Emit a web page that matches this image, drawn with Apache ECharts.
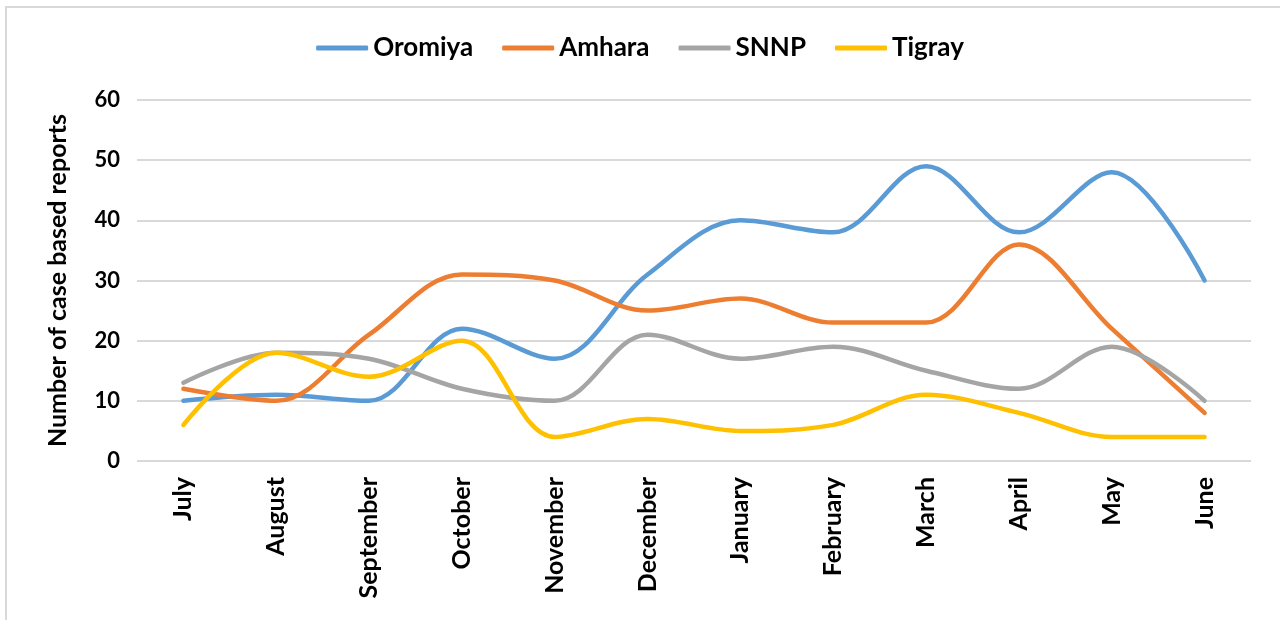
<!DOCTYPE html>
<html>
<head>
<meta charset="utf-8">
<script src="https://cdn.jsdelivr.net/npm/echarts@6/dist/echarts.min.js"></script>
<style>
  html,body{margin:0;padding:0;background:#fff;overflow:hidden;}
  #frame{position:absolute;left:5px;top:6px;width:1400px;height:700px;border-left:2px solid #d9d9d9;border-top:2px solid #d9d9d9;}
  #main{position:absolute;left:0;top:0;width:1280px;height:620px;}
</style>
</head>
<body>
<div id="frame"></div>
<div id="main"></div>
<script>
// 月份
var months=['July','August','September','October','November','December','January','February','March','April','May','June'];
// 各地区病例报告数
var oromiya=[10,11,10,22,17,31,40,38,49,38,48,30];
var amhara=[12,10,21,31,30,25,27,23,23,36,22,8];
var snnp=[13,18,17,12,10,21,17,19,15,12,19,10];
var tigray=[6,18,14,20,4,7,5,6,11,8,4,4];
var yTicks=[0,10,20,30,40,50,60];

var font='Lato, "Open Sans", sans-serif';
var chart=echarts.init(document.getElementById('main'));

function mkSeries(name,data,color){
	return {
		name:name,
		type:'line',
		data:data,
		smooth:0.35,
		symbol:'none',
		lineStyle:{width:4.5,color:color,cap:'round'},
		itemStyle:{color:color}
	};
}

var option={
	animation:false,
	textStyle:{fontFamily:font},
	legend:{
		top:30,
		left:'center',
		itemWidth:52,
		itemHeight:5,
		itemGap:29,
		icon:'roundRect',
		textStyle:{fontSize:26,fontWeight:'bold',color:'#000',fontFamily:font},
		data:['Oromiya','Amhara','SNNP','Tigray']
	},
	grid:{left:137,right:29,top:100,bottom:159},
	xAxis:{
		type:'category',
		data:months,
		boundaryGap:true,
		axisLine:{show:false},
		axisTick:{show:false},
		axisLabel:{rotate:90,fontSize:25,fontWeight:'bold',color:'#000',margin:16,fontFamily:font}
	},
	yAxis:{
		type:'value',
		min:yTicks[0],
		max:yTicks[yTicks.length-1],
		interval:10,
		name:'Number of case based reports',
		nameLocation:'middle',
		nameGap:67,
		nameTextStyle:{fontSize:25,fontWeight:'bold',color:'#000',fontFamily:font},
		axisLine:{show:false},
		axisTick:{show:false},
		axisLabel:{fontSize:22,fontWeight:'bold',color:'#000',margin:17,fontFamily:font},
		splitLine:{lineStyle:{color:'#d9d9d9',width:2}}
	},
	series:[
		mkSeries('Oromiya',oromiya,'#5B9BD5'),
		mkSeries('Amhara',amhara,'#ED7D31'),
		mkSeries('SNNP',snnp,'#A5A5A5'),
		mkSeries('Tigray',tigray,'#FFC000')
	]
};
chart.setOption(option);
</script>
</body>
</html>
